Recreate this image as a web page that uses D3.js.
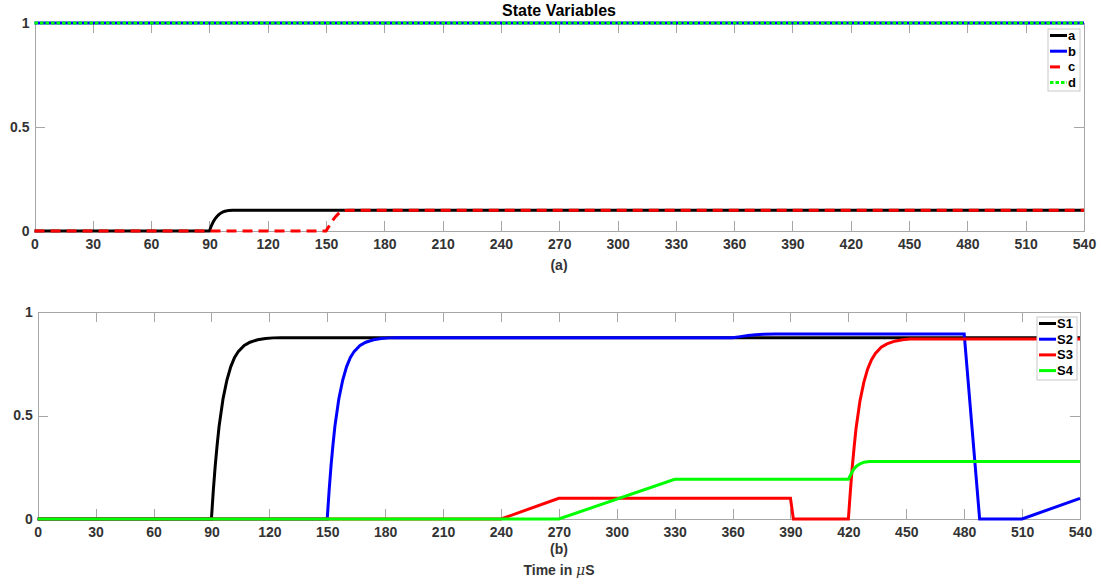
<!DOCTYPE html>
<head>
  <meta charset="utf-8">
  <script src="https://d3js.org/d3.v7.min.js"></script>
  <style>
    body { margin:0; background:#fff; }
    text { font-family: "Liberation Sans", Arial, sans-serif; font-weight: bold; }
    .axis path, .axis line { stroke: #a6a6a6; shape-rendering: crispEdges; }
    .axis text { fill: #333; font-size: 14px; }
  </style>
</head>
<body>
  <script>
    // x ticks shared by both panels (time in microseconds)
    var xTicks = d3.range(0, 541, 30);
    var yTicks = [0, 0.5, 1];

    // panel (a): state variables
    var aT = [0, 90, 91, 92, 93, 94, 95, 96, 97, 98, 100, 102, 540];
    var aV = [0, 0, 0.025, 0.045, 0.06, 0.071, 0.08, 0.087, 0.092, 0.095, 0.099, 0.1, 0.1];
    var bT = [0, 540];
    var bV = [1, 1];
    var cT = [0, 150, 151, 152, 153, 154, 155, 156, 157, 158, 160, 162, 540];
    var cV = [0, 0, 0.015, 0.03, 0.045, 0.058, 0.07, 0.08, 0.088, 0.094, 0.099, 0.1, 0.1];
    var dT = [0, 540];
    var dV = [1, 1];

    // panel (b): switch signals
    var s1T = [0, 90, 91, 92, 93, 94, 96, 98, 100, 102, 104, 107, 110, 114, 118, 122, 126, 540];
    var s1V = [0, 0, 0.14, 0.26, 0.36, 0.45, 0.58, 0.67, 0.735, 0.78, 0.81, 0.838, 0.854, 0.866, 0.872, 0.875, 0.876, 0.876];
    var s2T = [0, 150, 151, 152, 153, 154, 156, 158, 160, 162, 164, 167, 170, 174, 178, 182, 186,
               360, 364, 368, 372, 376, 382, 480, 488, 510, 540];
    var s2V = [0, 0, 0.14, 0.26, 0.36, 0.45, 0.58, 0.67, 0.735, 0.78, 0.81, 0.838, 0.854, 0.866, 0.872, 0.875, 0.876,
               0.876, 0.881, 0.886, 0.89, 0.892, 0.894, 0.894, 0, 0, 0.1];
    var s3T = [0, 240, 270, 390, 391.5, 420, 421, 422, 423, 424, 426, 428, 430, 432, 434, 437, 440, 444, 448, 452, 456, 540];
    var s3V = [0, 0, 0.1, 0.1, 0, 0, 0.13, 0.25, 0.35, 0.44, 0.57, 0.66, 0.725, 0.77, 0.8, 0.83, 0.846, 0.859, 0.866, 0.869, 0.87, 0.87];
    var s4T = [0, 270, 330, 420, 421, 422, 423, 424, 426, 428, 431, 540];
    var s4V = [0, 0, 0.192, 0.192, 0.21, 0.228, 0.243, 0.254, 0.267, 0.274, 0.278, 0.278];

    function zip(t, v) { return t.map(function(d, i) { return [d, v[i]]; }); }

    var svg = d3.select("body").append("svg")
      .attr("width", 1101)
      .attr("height", 584);

    function panel(left, right, top, bottom, series, legend) {
      var x = d3.scaleLinear().domain([0, 540]).range([left, right]);
      var y = d3.scaleLinear().domain([0, 1]).range([bottom, top]);
      var g = svg.append("g");

      g.append("g").attr("class", "axis")
        .attr("transform", "translate(0," + bottom + ")")
        .call(d3.axisBottom(x).tickValues(xTicks).tickSizeInner(-10).tickSizeOuter(0).tickPadding(8));
      g.append("g").attr("class", "axis")
        .attr("transform", "translate(0," + top + ")")
        .call(d3.axisTop(x).tickValues(xTicks).tickSizeInner(-10).tickSizeOuter(0).tickFormat(""));
      g.append("g").attr("class", "axis")
        .attr("transform", "translate(" + left + ",0)")
        .call(d3.axisLeft(y).tickValues(yTicks).tickSizeInner(-10).tickSizeOuter(0).tickPadding(5)
          .tickFormat(function(d) { return d; }));
      g.append("g").attr("class", "axis")
        .attr("transform", "translate(" + right + ",0)")
        .call(d3.axisRight(y).tickValues(yTicks).tickSizeInner(-10).tickSizeOuter(0).tickFormat(""));

      var line = d3.line()
        .x(function(d) { return x(d[0]); })
        .y(function(d) { return y(d[1]); });

      series.forEach(function(s) {
        g.append("path")
          .attr("d", line(s.data))
          .attr("fill", "none")
          .attr("stroke", s.color)
          .attr("stroke-width", 3)
          .attr("stroke-dasharray", s.dash || null);
      });

      // legend
      var lg = g.append("g");
      lg.append("rect")
        .attr("x", legend.x).attr("y", legend.y)
        .attr("width", legend.w).attr("height", legend.h)
        .attr("fill", "#fff").attr("stroke", "#c8c8c8");
      series.forEach(function(s, i) {
        var yy = legend.y + 6.5 + i * legend.step;
        lg.append("line")
          .attr("x1", legend.x + 2).attr("x2", legend.x + legend.lw)
          .attr("y1", yy).attr("y2", yy)
          .attr("stroke", s.color).attr("stroke-width", 3)
          .attr("stroke-dasharray", s.legendDash || s.dash || null);
        lg.append("text")
          .attr("x", legend.x + legend.lw + 1).attr("y", yy + 4.5)
          .attr("font-size", 13).attr("fill", "#000")
          .text(s.name);
      });
      return { x: x, y: y };
    }

    panel(34.5, 1084, 23, 231, [
      { name: "a", color: "#000", data: zip(aT, aV) },
      { name: "b", color: "#0000ff", data: zip(bT, bV) },
      { name: "c", color: "#ff0000", data: zip(cT, cV), dash: "10,6", legendDash: "10,20" },
      { name: "d", color: "#00ff00", data: zip(dT, dV), dash: "3.5,2" }
    ], { x: 1048, y: 29, w: 32, h: 62, step: 15.7, lw: 19 });

    panel(37.7, 1080, 312, 519, [
      { name: "S1", color: "#000", data: zip(s1T, s1V) },
      { name: "S2", color: "#0000ff", data: zip(s2T, s2V) },
      { name: "S3", color: "#ff0000", data: zip(s3T, s3V) },
      { name: "S4", color: "#00ff00", data: zip(s4T, s4V) }
    ], { x: 1037, y: 317, w: 40, h: 63, step: 15.7, lw: 19 });

    svg.append("text").attr("x", 559).attr("y", 16)
      .attr("text-anchor", "middle").attr("font-size", 16).attr("fill", "#000")
      .text("State Variables");
    svg.append("text").attr("x", 559).attr("y", 270)
      .attr("text-anchor", "middle").attr("font-size", 14).attr("fill", "#333")
      .text("(a)");
    svg.append("text").attr("x", 559).attr("y", 554)
      .attr("text-anchor", "middle").attr("font-size", 14).attr("fill", "#333")
      .text("(b)");
    var tl = svg.append("text").attr("x", 559).attr("y", 575)
      .attr("text-anchor", "middle").attr("font-size", 14).attr("fill", "#333");
    tl.append("tspan").text("Time in ");
    tl.append("tspan").attr("font-style", "italic").attr("font-weight", "normal")
      .attr("font-family", "'DejaVu Serif', serif").text("\u03bc");
    tl.append("tspan").text("S");
  </script>
</body>
